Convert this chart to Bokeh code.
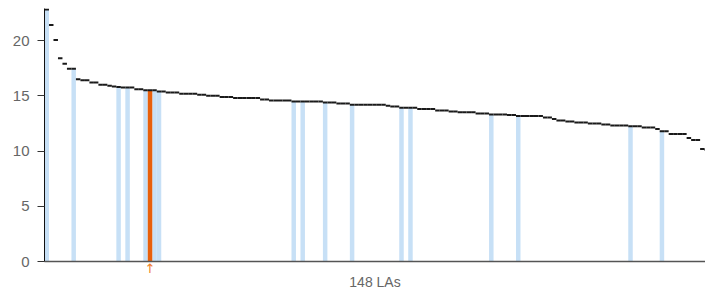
from bokeh.plotting import figure
from bokeh.models import Range1d, FixedTicker, LinearAxis, ColumnDataSource
from bokeh.embed import file_html
from bokeh.resources import INLINE

# ---- data ----
values = [
    22.8, 21.4, 20.05, 18.4, 17.9, 17.45, 17.45, 16.5, 16.4, 16.4,
    16.2, 16.2, 16.0, 16.0, 15.9, 15.85, 15.8, 15.75, 15.75, 15.75,
    15.6, 15.6, 15.5, 15.5, 15.5, 15.38, 15.38, 15.3, 15.3, 15.3,
    15.18, 15.18, 15.18, 15.18, 15.09, 15.09, 15.0, 15.0, 15.0, 14.9,
    14.9, 14.9, 14.79, 14.79, 14.79, 14.79, 14.79, 14.79, 14.66, 14.66,
    14.57, 14.57, 14.57, 14.57, 14.57, 14.48, 14.48, 14.48, 14.48, 14.48,
    14.48, 14.48, 14.4, 14.4, 14.4, 14.3, 14.3, 14.3, 14.18, 14.18,
    14.18, 14.18, 14.18, 14.18, 14.18, 14.18, 14.1, 14.03, 14.03, 13.91,
    13.91, 13.91, 13.91, 13.8, 13.8, 13.8, 13.8, 13.67, 13.67, 13.67,
    13.58, 13.58, 13.5, 13.5, 13.5, 13.5, 13.4, 13.4, 13.4, 13.3,
    13.3, 13.3, 13.3, 13.25, 13.25, 13.16, 13.16, 13.16, 13.16, 13.16,
    13.16, 13.03, 13.03, 12.89, 12.76, 12.76, 12.67, 12.67, 12.58, 12.58,
    12.58, 12.49, 12.49, 12.49, 12.4, 12.4, 12.31, 12.31, 12.31, 12.31,
    12.24, 12.24, 12.24, 12.13, 12.13, 12.13, 12.0, 11.8, 11.8, 11.54,
    11.54, 11.54, 11.54, 11.17, 10.99, 10.99, 10.18, 10.1,
]
la_positions = list(range(len(values)))
highlighted = [0, 6, 16, 18, 22, 24, 25, 55, 57, 62, 68, 79, 81, 99, 105, 130, 137]
selected = [23]
y_ticks = [0, 5, 10, 15, 20]
x_label = "148 LAs"

LIGHT_BLUE = "#c7e0f6"
ORANGE = "#e8600c"
ARROW = "#f07f2a"
GREY_TXT = "#666666"

src_all = ColumnDataSource(dict(
    x0=[i for i in la_positions],
    x1=[i + 1 for i in la_positions],
    v=values,
))
src_hl = ColumnDataSource(dict(
    x=[i + 0.5 for i in highlighted],
    v=[values[i] for i in highlighted],
))
src_sel = ColumnDataSource(dict(
    x=[i + 0.5 for i in selected],
    v=[values[i] for i in selected],
))

p = figure(
    frame_width=661, frame_height=253,
    x_range=Range1d(0, 147.2), y_range=Range1d(0, 22.9),
    output_backend="svg", toolbar_location=None,
    x_axis_type=None, y_axis_type=None,
    min_border_left=44, min_border_right=0, min_border_top=8, min_border_bottom=20,
)
p.outline_line_color = None
p.background_fill_color = "white"
p.border_fill_color = "white"

# y axis
yax = LinearAxis(ticker=FixedTicker(ticks=y_ticks))
yax.axis_line_color = "#111111"
yax.axis_line_width = 1
yax.major_tick_line_color = "#333333"
yax.major_tick_out = 7
yax.major_tick_in = 0
yax.minor_tick_line_color = None
yax.major_label_text_color = GREY_TXT
yax.major_label_text_font = "Liberation Sans"
yax.major_label_text_font_size = "15px"
yax.major_label_standoff = 8
p.add_layout(yax, "left")

# x axis: line, arrow under the selected LA, and the count label
xax = LinearAxis(ticker=FixedTicker(ticks=[selected[0] + 0.5]),
                 major_label_overrides={selected[0] + 0.5: "↑"})
xax.axis_line_color = "#555555"
xax.axis_line_width = 1.5
xax.major_tick_line_color = None
xax.major_tick_out = 0
xax.major_tick_in = 0
xax.minor_tick_line_color = None
xax.major_label_text_color = ARROW
xax.major_label_text_font = "DejaVu Sans"
xax.major_label_text_font_size = "13px"
xax.major_label_standoff = -1
xax.axis_label = x_label
xax.axis_label_text_color = GREY_TXT
xax.axis_label_text_font = "Liberation Sans"
xax.axis_label_text_font_style = "normal"
xax.axis_label_text_font_size = "14px"
xax.axis_label_standoff = -5
p.add_layout(xax, "below")

p.xgrid.grid_line_color = None
p.ygrid.ticker = FixedTicker(ticks=y_ticks)
p.ygrid.grid_line_color = "#e3e3e3"
p.ygrid.grid_line_width = 1

p.vbar(x="x", top="v", bottom=0, width=1.0, source=src_hl,
       fill_color=LIGHT_BLUE, line_color=None)
p.vbar(x="x", top="v", bottom=0, width=1.0, source=src_sel,
       fill_color=ORANGE, line_color=None)
p.segment(x0="x0", y0="v", x1="x1", y1="v", source=src_all,
          line_color="#1a1a1a", line_width=2)

open("out.html", "w").write(file_html(p, INLINE))
